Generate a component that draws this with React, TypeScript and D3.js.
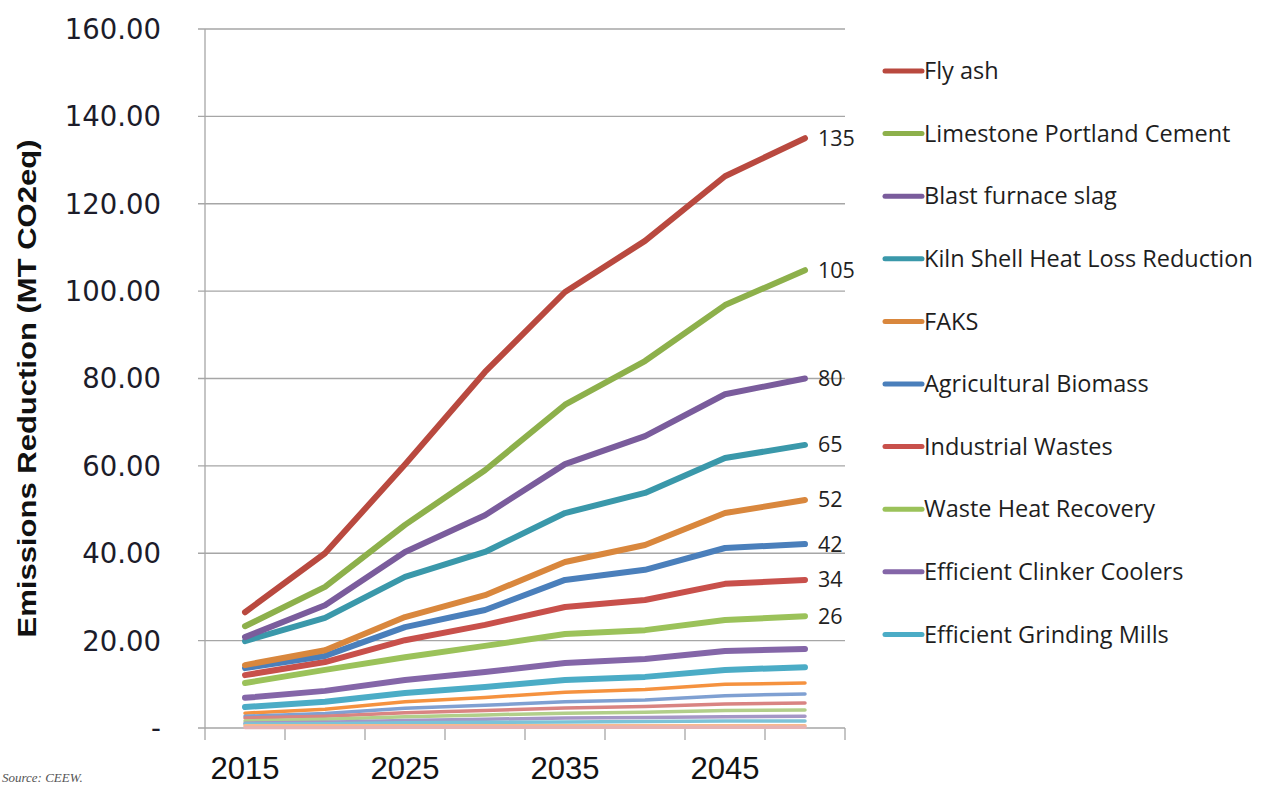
import React from 'react';
import * as d3 from 'd3';

const years = ['2015', '2020', '2025', '2030', '2035', '2040', '2045', '2050'];
const yearLabels = ['2015', '2025', '2035', '2045'];
const yTicks = [0, 20, 40, 60, 80, 100, 120, 140, 160];

// series shown in the legend
const flyAsh = [26.5, 40.0, 60.3, 81.5, 99.8, 111.5, 126.3, 135.0];
const limestone = [23.3, 32.3, 46.5, 59.0, 74.0, 84.0, 96.8, 104.8];
const blastSlag = [20.8, 28.1, 40.3, 48.7, 60.4, 66.8, 76.4, 80.0];
const kilnShell = [19.9, 25.2, 34.6, 40.3, 49.2, 53.8, 61.8, 64.8];
const faks = [14.4, 17.8, 25.4, 30.4, 38.0, 41.9, 49.2, 52.2];
const agBiomass = [13.7, 16.5, 23.1, 27.0, 33.9, 36.2, 41.2, 42.1];
const industrialWastes = [12.1, 15.1, 20.1, 23.6, 27.7, 29.3, 33.0, 33.9];
const wasteHeat = [10.3, 13.3, 16.2, 18.8, 21.5, 22.4, 24.7, 25.6];
const clinkerCoolers = [6.9, 8.5, 11.0, 12.8, 14.9, 15.8, 17.6, 18.1];
const grindingMills = [4.8, 6.0, 8.0, 9.4, 11.0, 11.7, 13.3, 13.9];

// smaller series (not in the visible legend)
const minor1 = [3.4, 4.3, 6.0, 7.0, 8.2, 8.8, 10.0, 10.3];
const minor2 = [2.7, 3.3, 4.5, 5.2, 6.0, 6.4, 7.4, 7.8];
const minor3 = [2.3, 2.7, 3.5, 4.0, 4.6, 4.9, 5.5, 5.7];
const minor4 = [1.6, 2.0, 2.6, 3.0, 3.4, 3.6, 4.0, 4.1];
const minor5 = [1.1, 1.3, 1.7, 2.0, 2.3, 2.4, 2.6, 2.7];
const minor6 = [0.9, 1.0, 1.2, 1.3, 1.4, 1.5, 1.6, 1.6];
const minor7 = [0.5, 0.5, 0.5, 0.5, 0.5, 0.5, 0.5, 0.5];
const minor8 = [0.1, 0.1, 0.2, 0.2, 0.2, 0.2, 0.2, 0.2];

const legendNames = ['Fly ash', 'Limestone Portland Cement', 'Blast furnace slag', 'Kiln Shell Heat Loss Reduction', 'FAKS',
  'Agricultural Biomass', 'Industrial Wastes', 'Waste Heat Recovery', 'Efficient Clinker Coolers', 'Efficient Grinding Mills'];
const mainSeries = [flyAsh, limestone, blastSlag, kilnShell, faks, agBiomass, industrialWastes, wasteHeat, clinkerCoolers, grindingMills];
const mainColors = ['#b9493f', '#8db04b', '#7a5c9c', '#3a98aa', '#d9873d', '#4a7fbb', '#c8504b', '#9bc25a', '#8466a8', '#4bacc6'];
const minorSeries = [minor1, minor2, minor3, minor4, minor5, minor6, minor7, minor8];
const minorColors = ['#f5923f', '#7fa0d2', '#d98482', '#b2cf8a', '#a597c6', '#7cc3d8', '#f8b98c', '#e6b3b3'];
const endLabels = ['135', '105', '80', '65', '52', '42', '34', '26'];

export default function App() {
  const W = 1266, H = 787;
  const left = 205, right = 845, top = 29, bottom = 728;

  const x = d3.scaleBand().domain(years).range([left, right]);
  const y = d3.scaleLinear().domain([0, 160]).range([bottom, top]);
  const cx = (yr: string) => (x(yr) as number) + x.bandwidth() / 2;

  const line = d3.line<number>()
    .x((d, i) => cx(years[i]))
    .y((d) => y(d));

  const bounds = years.map((yr) => x(yr) as number).concat([right]);

  return (
    <svg width={W} height={H} style={{ position: 'absolute', left: 0, top: 0, display: 'block', background: '#fff' }}>
      {/* grid */}
      {yTicks.map((t) => (
        <line key={'g' + t} x1={left - 7} x2={right} y1={y(t)} y2={y(t)} stroke="#a6a6a6" strokeWidth={1.3} />
      ))}
      <line x1={left} x2={left} y1={top} y2={bottom} stroke="#a6a6a6" strokeWidth={1.3} />
      {bounds.map((b, i) => (
        <line key={'xt' + i} x1={b} x2={b} y1={bottom} y2={bottom + 12} stroke="#a6a6a6" strokeWidth={1.3} />
      ))}

      {/* y tick labels */}
      {yTicks.map((t) => (
        <text key={'yl' + t} x={161} y={y(t)} dy="0.36em" textAnchor="end" fontFamily="DejaVu Sans, Verdana, sans-serif"
          fontSize={27.5} fill="#1c1c2a">{t === 0 ? '-' : t.toFixed(2)}</text>
      ))}

      {/* y title */}
      <text transform={`translate(36,${(top + bottom) / 2 + 10}) rotate(-90)`} textAnchor="middle" fontFamily="Liberation Sans Narrow, Liberation Sans, sans-serif"
        fontWeight="bold" fontSize={26} fill="#111" textLength={498} lengthAdjust="spacingAndGlyphs">Emissions Reduction (MT CO2eq)</text>

      {/* x labels */}
      {yearLabels.map((yr) => (
        <text key={'xl' + yr} x={cx(yr)} y={779} textAnchor="middle" fontFamily="Liberation Sans, Arial, sans-serif"
          fontSize={31} fill="#111">{yr}</text>
      ))}

      {/* minor lines */}
      {minorSeries.map((s, i) => (
        <path key={'m' + i} d={line(s) as string} fill="none" stroke={minorColors[i]} strokeWidth={3.5}
          strokeLinejoin="round" strokeLinecap="round" />
      ))}
      {/* main lines, drawn bottom series first */}
      {mainSeries.map((s, i) => ({ s, i })).reverse().map(({ s, i }) => (
        <path key={'s' + i} d={line(s) as string} fill="none" stroke={mainColors[i]} strokeWidth={6}
          strokeLinejoin="round" strokeLinecap="round" />
      ))}

      {/* end labels */}
      {endLabels.map((lab, i) => (
        <text key={'el' + i} x={818} y={y(mainSeries[i][years.length - 1])} dy="0.35em" fontFamily="Open Sans, sans-serif"
          fontSize={21.5} fill="#222">{lab}</text>
      ))}

      {/* legend */}
      {legendNames.map((name, i) => {
        const ly = 71 + i * 62.6;
        return (
          <g key={'lg' + i}>
            <line x1={885} x2={922} y1={ly} y2={ly} stroke={mainColors[i]} strokeWidth={5} strokeLinecap="round" />
            <text x={924} y={ly} dy="0.35em" fontFamily="Open Sans, sans-serif" fontSize={23.5} fill="#1e1e1e">{name}</text>
          </g>
        );
      })}

      {/* source note */}
      <text x={2} y={782} fontFamily="Liberation Serif, serif" fontStyle="italic" fontSize={13} fill="#555">Source: CEEW.</text>
    </svg>
  );
}
